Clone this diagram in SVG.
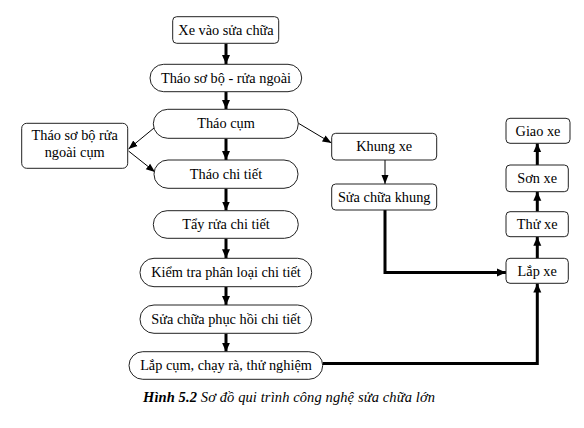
<svg xmlns="http://www.w3.org/2000/svg" width="584" height="428" viewBox="0 0 584 428">
<defs>
<style>
.box{fill:#fff;stroke:#222;stroke-width:1}
.t{font-family:'Liberation Serif','DejaVu Serif',serif;font-size:14.3px;fill:#000;text-anchor:middle}
.thick{fill:none;stroke:#000;stroke-width:3}
.thin{fill:none;stroke:#000;stroke-width:1}
.cap{font-family:'Liberation Serif','DejaVu Serif',serif;font-size:14.5px;font-style:italic;fill:#000}
</style>
<marker id="ah" markerUnits="userSpaceOnUse" markerWidth="10" markerHeight="10" viewBox="0 0 10 10" refX="9" refY="5" orient="auto">
<path d="M0,1 L9,5 L0,9 Z" fill="#000"/>
</marker>
<marker id="at" markerUnits="userSpaceOnUse" markerWidth="10" markerHeight="10" viewBox="0 0 10 10" refX="9" refY="5" orient="auto">
<path d="M0,1.5 L9,5 L0,8.5 Z" fill="#000"/>
</marker>
</defs>
<rect width="584" height="428" fill="#fff"/>
<g id="connectors">
<line class="thick" x1="226" y1="43.5" x2="226" y2="64" marker-end="url(#ah)"/>
<line class="thick" x1="226" y1="92" x2="226" y2="109" marker-end="url(#ah)"/>
<line class="thick" x1="226" y1="138.5" x2="226" y2="160" marker-end="url(#ah)"/>
<line class="thick" x1="226" y1="188.5" x2="226" y2="210.5" marker-end="url(#ah)"/>
<line class="thick" x1="226" y1="238.5" x2="226" y2="258.3" marker-end="url(#ah)"/>
<line class="thick" x1="226" y1="287" x2="226" y2="305" marker-end="url(#ah)"/>
<line class="thick" x1="226" y1="333.5" x2="226" y2="351.7" marker-end="url(#ah)"/>
<polyline class="thick" points="322.7,363.5 537.3,363.5 537.3,283.5" marker-end="url(#ah)"/>
<polyline class="thick" points="385,210 385,272.5 506,272.5" marker-end="url(#ah)"/>
<line class="thick" x1="537.3" y1="258.3" x2="537.3" y2="236.7" marker-end="url(#ah)"/>
<line class="thick" x1="537.3" y1="211.7" x2="537.3" y2="191.7" marker-end="url(#ah)"/>
<line class="thick" x1="537.3" y1="165" x2="537.3" y2="143.3" marker-end="url(#ah)"/>
<line class="thin" x1="154" y1="128" x2="128.5" y2="149" marker-end="url(#at)"/>
<line class="thin" x1="128.5" y1="151" x2="155" y2="172" marker-end="url(#at)"/>
<line class="thin" x1="298" y1="123" x2="331.5" y2="143" marker-end="url(#at)"/>
<line class="thin" x1="385" y1="160" x2="385" y2="184" marker-end="url(#at)"/>
</g>
<g id="n1"><rect class="box" x="172.7" y="16.7" width="106" height="26.6" rx="4"/><text class="t" x="226" y="35">Xe vào sửa chữa</text></g>
<g id="n2"><rect class="box" x="150" y="64.3" width="151.7" height="27.4" rx="13.7"/><text class="t" x="226" y="82.5">Tháo sơ bộ - rửa ngoài</text></g>
<g id="n3"><rect class="box" x="153.3" y="109.3" width="145" height="29" rx="14.5"/><text class="t" x="226" y="127.5">Tháo cụm</text></g>
<g id="n4"><rect class="box" x="21.7" y="123.3" width="106" height="45" rx="5"/><text class="t" x="74.7" y="140">Tháo sơ bộ rửa</text><text class="t" x="74.7" y="156.5">ngoài cụm</text></g>
<g id="n5"><rect class="box" x="154" y="160" width="144" height="28.3" rx="14"/><text class="t" x="226" y="178.5">Tháo chi tiết</text></g>
<g id="n6"><rect class="box" x="153.3" y="210.7" width="145" height="27.6" rx="13.8"/><text class="t" x="226" y="229">Tẩy rửa chi tiết</text></g>
<g id="n7"><rect class="box" x="140" y="258.3" width="171.7" height="28.4" rx="14"/><text class="t" x="226" y="277">Kiểm tra phân loại chi tiết</text></g>
<g id="n8"><rect class="box" x="140" y="305" width="171.7" height="28.3" rx="14"/><text class="t" x="226" y="323.5">Sửa chữa phục hồi chi tiết</text></g>
<g id="n9"><rect class="box" x="129" y="351.7" width="193.7" height="27.6" rx="13.8"/><text class="t" x="226" y="370">Lắp cụm, chạy rà, thử nghiệm</text></g>
<g id="n10"><rect class="box" x="331.7" y="133.3" width="105" height="26.7" rx="4"/><text class="t" x="384.2" y="151">Khung xe</text></g>
<g id="n11"><rect class="box" x="331.7" y="184" width="105" height="26" rx="4"/><text class="t" x="384.2" y="202">Sửa chữa khung</text></g>
<g id="n12"><rect class="box" x="506" y="258.3" width="62.3" height="25" rx="4"/><text class="t" x="537.2" y="275.5">Lắp xe</text></g>
<g id="n13"><rect class="box" x="506" y="211.7" width="62.3" height="25" rx="4"/><text class="t" x="537.2" y="229">Thử xe</text></g>
<g id="n14"><rect class="box" x="506" y="165" width="62.3" height="26.7" rx="4"/><text class="t" x="537.2" y="183">Sơn xe</text></g>
<g id="n15"><rect class="box" x="506" y="118.3" width="64" height="25" rx="4"/><text class="t" x="538" y="135.5">Giao xe</text></g>
<text class="cap" x="143" y="402" textLength="292" lengthAdjust="spacing"><tspan font-weight="bold">Hình 5.2</tspan> Sơ đồ qui trình công nghệ sửa chữa lớn</text>
</svg>
